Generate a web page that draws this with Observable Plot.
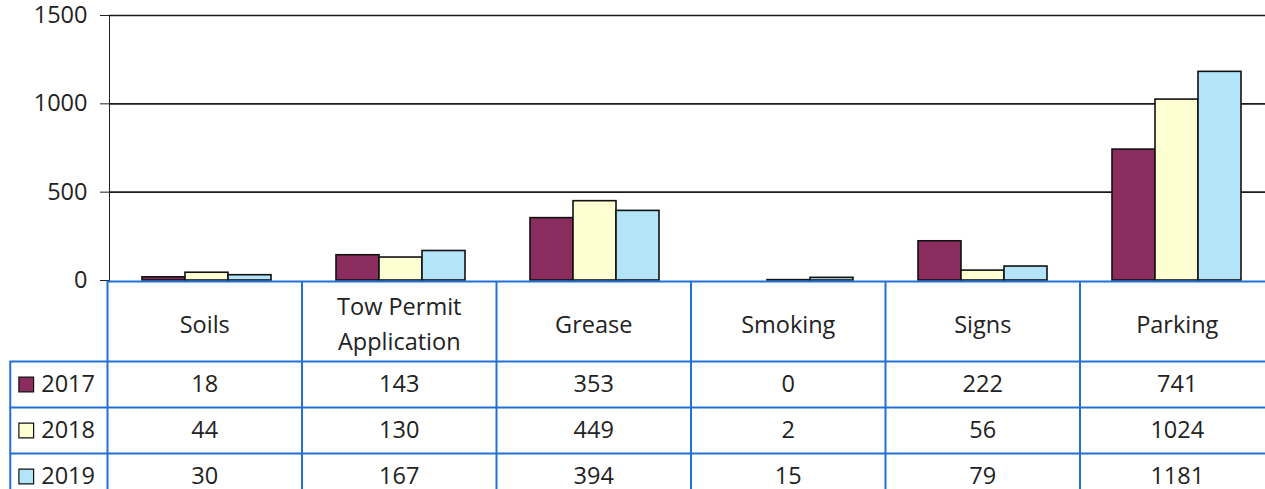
<!DOCTYPE html>
<html><head><meta charset="utf-8">
<script src="https://cdn.jsdelivr.net/npm/d3@7"></script>
<script src="https://cdn.jsdelivr.net/npm/@observablehq/plot@0.6"></script>
<style>
html,body{margin:0;padding:0;background:#fff;overflow:hidden;}
#chart svg{display:block;max-width:none !important;}
</style></head><body><div id="chart"></div>
<script>
const categories = ["Soils","Tow Permit\nApplication","Grease","Smoking","Signs","Parking"];
const years = ["2017","2018","2019"];
const values2017 = [18,143,353,0,222,741];
const values2018 = [44,130,449,2,56,1024];
const values2019 = [30,167,394,15,79,1181];
const yTicks = [0,500,1000,1500];
const colors = ["#8b2c5e","#ffffd4","#b4e4f8"];

const series = [values2017, values2018, values2019];
const data = [];
years.forEach((yr, j) => categories.forEach((c, i) => data.push({category: c, year: yr, value: series[j][i], ci: i, yj: j})));

const font = {fontFamily: "'Open Sans', sans-serif", fontSize: "23.5px", color: "#222", background: "white", overflow: "visible", maxWidth: "none"};
const blue = "#2370d4";
const W = 1275;

const barChart = Plot.plot({
  width: W, height: 280,
  marginLeft: 107, marginRight: 1, marginTop: 15, marginBottom: 0,
  style: font,
  facet: {data: data, x: "category"},
  fx: {domain: categories, padding: 0, axis: null},
  x: {domain: years, paddingInner: 0, paddingOuter: 0.71, axis: null},
  y: {domain: [0, 1500], ticks: yTicks, tickSize: 9, tickPadding: 13, label: null, line: true, tickFormat: d => String(d)},
  color: {domain: years, range: colors},
  marks: [
    Plot.ruleY(yTicks.filter(d => d > 0), {stroke: "#1a1a1a", strokeWidth: 1.6}),
    Plot.barY(data, {x: "year", y: "value", fill: "year", stroke: "#111", strokeWidth: 1.6})
  ]
});

const rowH = 46, hdrH = 80;
const hdr = hdrH / rowH;
const nC = categories.length, nY = years.length;
const tableH = hdrH + rowH * nY + 2;

const dataTable = Plot.plot({
  width: W, height: tableH, margin: 0,
  style: font,
  x: {domain: [0, nC], range: [107, W - 1], axis: null},
  y: {domain: [-hdr, nY], range: [1, tableH - 1], axis: null},
  color: {domain: years, range: colors},
  marks: [
    Plot.ruleY([-hdr], {x1: 0, x2: nC, stroke: blue, strokeWidth: 2}),
    Plot.ruleY(d3.range(nY + 1), {x1: -0.5, x2: nC, stroke: blue, strokeWidth: 2}),
    Plot.ruleX(d3.range(nC + 1), {y1: -hdr, y2: nY, stroke: blue, strokeWidth: 2}),
    Plot.ruleX([-0.5], {y1: 0, y2: nY, stroke: blue, strokeWidth: 2}),
    Plot.text(categories, {x: (d, i) => i + 0.5, y: -hdr / 2, text: d => d, lineHeight: 1.48}),
    Plot.text(data, {x: d => d.ci + 0.5, y: d => d.yj + 0.5, text: d => String(d.value)}),
    Plot.dot(years, {x: -0.5, dx: 16, y: (d, j) => j + 0.5, symbol: "square", r: 8.3, fill: d => d, stroke: "#111", strokeWidth: 1.2}),
    Plot.text(years, {x: -0.5, dx: 31, y: (d, j) => j + 0.5, text: d => d, textAnchor: "start"})
  ]
});

const el = document.getElementById("chart");
el.append(barChart, dataTable);
</script>
</body></html>
